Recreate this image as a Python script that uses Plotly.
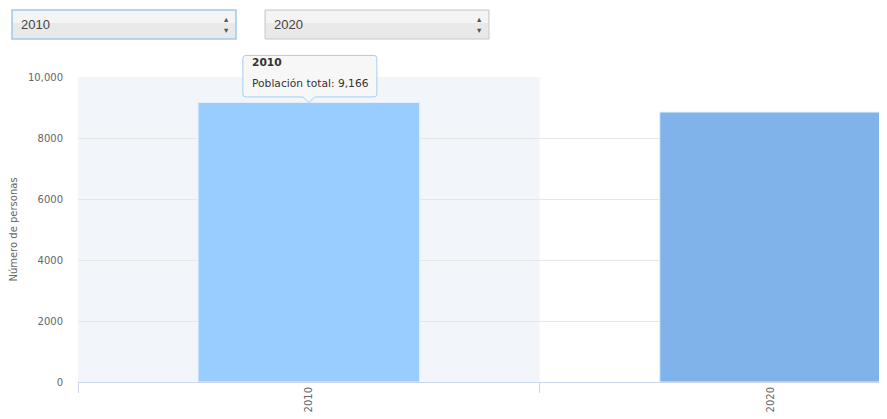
import plotly.graph_objects as go

years = ["2010", "2020"]
population = [9166, 8850]
bar_colors = ["#99ccff", "#7fb3ea"]
y_tickvals = [0, 2000, 4000, 6000, 8000, 10000]
y_ticktext = ["0", "2000", "4000", "6000", "8000", "10,000"]
dropdown_labels = ["2010", "2020"]
hovered = 0  # index of the category with the tooltip

OFF = 8  # page body margin
W, H = 887 - OFF, 419 - OFF
L, R, T, B = 78 - OFF, 1, 77 - OFF, 37
pw, ph = W - L - R, H - T - B
X_RANGE = [-0.5, 1.25]
Y_RANGE = [0, 10000]

def px(x):
    return (x - OFF - L) / pw

def py(y):
    return (H - B - (y - OFF)) / ph

FONT = "DejaVu Sans"

fig = go.Figure()
fig.add_trace(go.Bar(
    x=years, y=population,
    marker=dict(color=bar_colors, line=dict(color="#e6f0fb", width=1)),
    width=0.48, hoverinfo="skip",
))

shapes = [
    # hover highlight band for the hovered category
    dict(type="rect", xref="x", yref="paper", x0=hovered - 0.5, x1=hovered + 0.5, y0=0, y1=1,
         fillcolor="#f2f5fa", line=dict(width=0), layer="below"),
]
annotations = []

# dropdown-like selectors
boxes = [(12, 236, "#9ecaed", 1.5), (265, 489, "#c8c8c8", 1)]
for (x0, x1, lc, lw), lab in zip(boxes, dropdown_labels):
    shapes.append(dict(type="rect", xref="paper", yref="paper",
                       x0=px(x0), x1=px(x1), y0=py(39), y1=py(10),
                       fillcolor="#e9e9e9", line=dict(color=lc, width=lw)))
    shapes.append(dict(type="rect", xref="paper", yref="paper",
                       x0=px(x0 + 1), x1=px(x1 - 1), y0=py(23), y1=py(11),
                       fillcolor="#f4f4f4", line=dict(width=0)))
    annotations.append(dict(xref="paper", yref="paper", x=px(x0 + 7), y=py(24.5),
                            xanchor="left", yanchor="middle", showarrow=False,
                            text=lab, font=dict(family="Liberation Sans", size=13, color="#444")))
    annotations.append(dict(xref="paper", yref="paper", x=px(x1 - 10), y=py(24.5),
                            xanchor="center", yanchor="middle", showarrow=False,
                            text="▴<br>▾", font=dict(family=FONT, size=8.5, color="#555")))

# tooltip box with pointer, anchored at the hovered bar's top (pixel offsets)
anchor_xp = (hovered - X_RANGE[0]) / (X_RANGE[1] - X_RANGE[0])
anchor_yp = (population[hovered] - Y_RANGE[0]) / (Y_RANGE[1] - Y_RANGE[0])
tip_path = ("M -63,5.5 L -6,5.5 L 0,0 L 6,5.5 L 65,5.5 Q 68,5.5 68,8.5 L 68,44 "
            "Q 68,47 65,47 L -63,47 Q -66,47 -66,44 L -66,8.5 Q -66,5.5 -63,5.5 Z")
shapes.append(dict(type="path", xref="paper", yref="paper",
                   xsizemode="pixel", ysizemode="pixel",
                   xanchor=anchor_xp, yanchor=anchor_yp,
                   path=tip_path, fillcolor="rgba(247,247,247,0.95)",
                   line=dict(color="#a8cdef", width=1)))
annotations.append(dict(
    x=hovered, y=population[hovered], xref="x", yref="y",
    xanchor="left", yanchor="middle", xshift=-59, yshift=40, showarrow=False,
    text=f"<b>{years[hovered]}</b>",
    font=dict(family=FONT, size=10.7, color="#333"),
))
annotations.append(dict(
    x=hovered, y=population[hovered], xref="x", yref="y",
    xanchor="left", yanchor="middle", xshift=-59, yshift=19, showarrow=False,
    text=f"Población total: {population[hovered]:,}",
    font=dict(family=FONT, size=10.7, color="#333"),
))

fig.update_layout(
    width=W, height=H,
    margin=dict(l=L, r=R, t=T, b=B),
    paper_bgcolor="white", plot_bgcolor="rgba(0,0,0,0)",
    showlegend=False,
    font=dict(family=FONT, size=10, color="#666"),
    shapes=shapes, annotations=annotations,
    xaxis=dict(
        type="category",
        range=X_RANGE, tickangle=-90, showgrid=False,
        showline=True, linecolor="#ccd6eb", linewidth=1,
        ticks="outside", tickson="boundaries", ticklen=10, tickcolor="#ccd6eb",
        tickfont=dict(family=FONT, size=10, color="#666"), fixedrange=True,
    ),
    yaxis=dict(
        range=Y_RANGE, tickvals=y_tickvals, ticktext=y_ticktext,
        showgrid=True, gridcolor="#e6e6e6", gridwidth=1, zeroline=False,
        showline=False, ticks="", ticklabelstandoff=14,
        tickfont=dict(family=FONT, size=10, color="#666"),
        title=dict(text="Número de personas", standoff=8,
                   font=dict(family=FONT, size=10, color="#666")),
    ),
)

fig.write_html("out.html")
